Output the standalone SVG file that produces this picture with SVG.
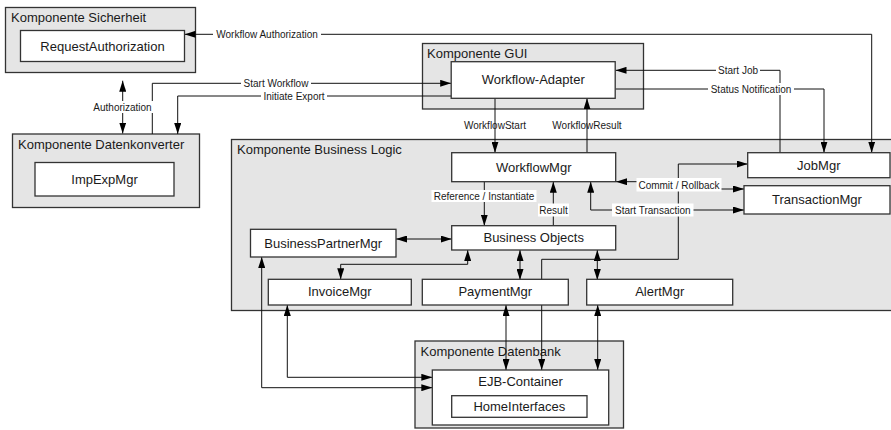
<svg xmlns="http://www.w3.org/2000/svg" width="891" height="430" viewBox="0 0 891 430">
<style>
.cont{fill:#e5e5e5;stroke:#333;stroke-width:1.3}
.node{fill:#fff;stroke:#333;stroke-width:1.3}
.title{font-family:"Liberation Sans",Arial,sans-serif;font-size:13px;fill:#1a1a1a}
.nt{font-family:"Liberation Sans",Arial,sans-serif;font-size:13px;fill:#1a1a1a;text-anchor:middle}
.lbl{font-family:"Liberation Sans",Arial,sans-serif;font-size:10px;fill:#1a1a1a;text-anchor:middle}
.lbg{fill:#fff}
.c{fill:none;stroke:#111;stroke-width:1}
.e{marker-end:url(#ah)}
.d{marker-end:url(#ah);marker-start:url(#ah)}
</style>
<defs>
<marker id="ah" viewBox="0 0 11 7" refX="11" refY="3.5" markerWidth="11" markerHeight="7" markerUnits="userSpaceOnUse" orient="auto-start-reverse">
<path d="M0,0 L11,3.5 L0,7 z" fill="#000"/>
</marker>
</defs>
<rect width="891" height="430" fill="#fff"/>

<g id="komp-sicherheit">
<rect class="cont" x="5.5" y="7.5" width="190" height="65"/>
<text class="title" x="11" y="22">Komponente Sicherheit</text>
</g>
<g id="komp-gui">
<rect class="cont" x="422.5" y="43.5" width="221" height="65.5"/>
<text class="title" x="427" y="58">Komponente GUI</text>
</g>
<g id="komp-datenkonverter">
<rect class="cont" x="12.5" y="134" width="187" height="73.5"/>
<text class="title" x="18" y="149">Komponente Datenkonverter</text>
</g>
<g id="komp-businesslogic">
<rect class="cont" x="231.5" y="139.5" width="662" height="171"/>
<text class="title" x="237" y="154">Komponente Business Logic</text>
</g>
<g id="komp-datenbank">
<rect class="cont" x="415" y="341" width="208.5" height="87"/>
<text class="title" x="420.5" y="355.5">Komponente Datenbank</text>
</g>

<g id="connectors">
<path class="c d" d="M871.7,152.7 V34.3 H184.5"/>
<path class="c d" d="M122.7,80.7 V133.5"/>
<path class="c e" d="M152.3,134 V83.3 H451.2"/>
<path class="c e" d="M451.2,96 H177.7 V134"/>
<path class="c e" d="M780,152.7 V70.3 H615.5"/>
<path class="c e" d="M615.5,89 H824 V152.7"/>
<path class="c e" d="M495,98.3 V152.7"/>
<path class="c e" d="M587,152.7 V98.3"/>
<path class="c e" d="M484.3,181.7 V225.7"/>
<path class="c e" d="M553.3,225.7 V181.7"/>
<path class="c d" d="M744,189 H679 V181.7 H616"/>
<path class="c d" d="M590.7,181.7 V210 H744"/>
<path class="c d" d="M396,239 H451.7"/>
<path class="c d" d="M467.7,250 V264.3 H340.7 V279.3"/>
<path class="c d" d="M520,250 V280"/>
<path class="c d" d="M597.3,250 V280"/>
<path class="c d" d="M747.7,164 H678.3 V259.3 H541.7 V370"/>
<path class="c d" d="M506,305 V370"/>
<path class="c d" d="M597.7,305 V370"/>
<path class="c d" d="M287.3,305 V377.3 H432.3"/>
<path class="c d" d="M261.7,257 V387.7 H432.3"/>

<rect class="lbg" x="213" y="28" width="108" height="12"/>
<text class="lbl" x="267" y="37.5">Workflow Authorization</text>
<rect class="lbg" x="92" y="101" width="61" height="12"/>
<text class="lbl" x="122.5" y="110.5">Authorization</text>
<rect class="lbg" x="241" y="77" width="70" height="12"/>
<text class="lbl" x="276" y="86.5">Start Workflow</text>
<rect class="lbg" x="261" y="90" width="66" height="12"/>
<text class="lbl" x="294" y="99.5">Initiate Export</text>
<rect class="lbg" x="716" y="64" width="44" height="12"/>
<text class="lbl" x="738" y="73.5">Start Job</text>
<rect class="lbg" x="708" y="83" width="86" height="12"/>
<text class="lbl" x="751" y="92.5">Status Notification</text>
<text class="lbl" x="495" y="128.5">WorkflowStart</text>
<text class="lbl" x="587" y="128.5">WorkflowResult</text>
<rect class="lbg" x="431.5" y="190" width="105" height="12"/>
<text class="lbl" x="484" y="199.5">Reference / Instantiate</text>
<rect class="lbg" x="538" y="203.5" width="31" height="13"/>
<text class="lbl" x="553.5" y="213.5">Result</text>
<rect class="lbg" x="636.5" y="178" width="85" height="13.5"/>
<text class="lbl" x="679" y="188.5">Commit / Rollback</text>
<rect class="lbg" x="612" y="203.5" width="81.5" height="13"/>
<text class="lbl" x="652.8" y="213.5">Start Transaction</text>
</g>

<g id="requestauthorization">
<rect class="node" x="20.5" y="30.5" width="164" height="31"/>
<text class="nt" x="102.5" y="50.5">RequestAuthorization</text>
</g>
<g id="impexpmgr">
<rect class="node" x="35" y="162.5" width="139" height="33.5"/>
<text class="nt" x="104.5" y="183.7">ImpExpMgr</text>
</g>
<g id="workflow-adapter">
<rect class="node" x="451.2" y="61.7" width="164" height="36.6"/>
<text class="nt" x="533.2" y="83.5">Workflow-Adapter</text>
</g>
<g id="workflowmgr">
<rect class="node" x="451.7" y="152.7" width="164" height="29"/>
<text class="nt" x="533.7" y="171.7">WorkflowMgr</text>
</g>
<g id="businessobjects">
<rect class="node" x="451.7" y="225.7" width="164" height="24.3"/>
<text class="nt" x="533.7" y="242">Business Objects</text>
</g>
<g id="businesspartnermgr">
<rect class="node" x="250.5" y="229.3" width="145.5" height="27.7"/>
<text class="nt" x="323.2" y="247.5">BusinessPartnerMgr</text>
</g>
<g id="invoicemgr">
<rect class="node" x="268.3" y="279.3" width="143" height="25.7"/>
<text class="nt" x="339.8" y="296.3">InvoiceMgr</text>
</g>
<g id="paymentmgr">
<rect class="node" x="422.3" y="279.3" width="146" height="25.7"/>
<text class="nt" x="495.3" y="296.3">PaymentMgr</text>
</g>
<g id="alertmgr">
<rect class="node" x="586.7" y="279.3" width="146" height="25.7"/>
<text class="nt" x="659.7" y="296.3">AlertMgr</text>
</g>
<g id="jobmgr">
<rect class="node" x="747.7" y="152.7" width="142.3" height="25"/>
<text class="nt" x="818.8" y="169.7">JobMgr</text>
</g>
<g id="transactionmgr">
<rect class="node" x="744" y="185.7" width="146" height="28.3"/>
<text class="nt" x="817" y="204.3">TransactionMgr</text>
</g>
<g id="ejb-container">
<rect class="node" x="432.3" y="370" width="176.4" height="55"/>
<text class="nt" x="520.5" y="385.5">EJB-Container</text>
</g>
<g id="homeinterfaces">
<rect class="node" x="451.7" y="395.7" width="135.3" height="21.6"/>
<text class="nt" x="519.3" y="411">HomeInterfaces</text>
</g>
</svg>
